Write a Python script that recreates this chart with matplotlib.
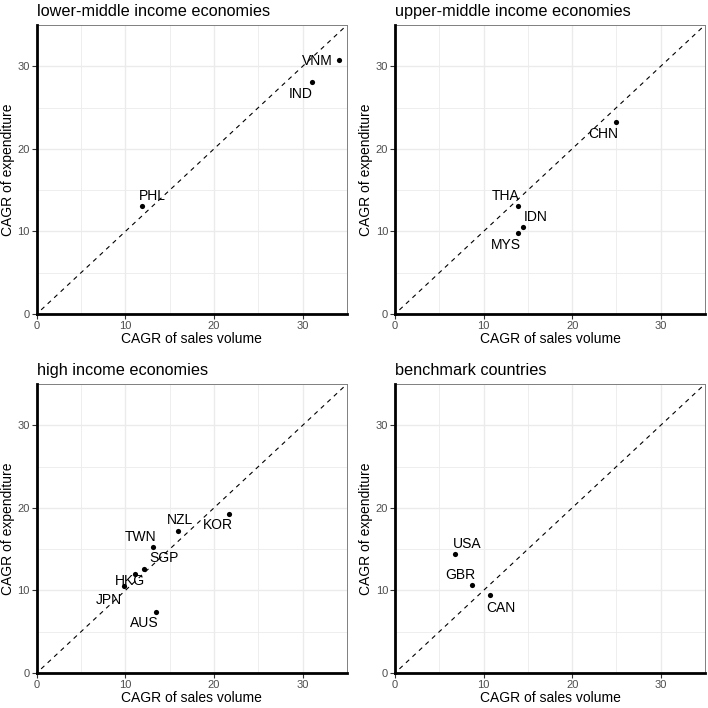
import matplotlib
matplotlib.use("Agg")
import matplotlib.pyplot as plt

plt.rcParams['font.family'] = ['Liberation Sans', 'DejaVu Sans']

titles = ["lower-middle income economies", "upper-middle income economies",
          "high income economies", "benchmark countries"]

lm_codes = ["PHL", "IND", "VNM"]
lm_x = [11.9, 31.1, 34.1]
lm_y = [13.1, 28.1, 30.8]
lm_lx = [13.0, 29.8, 31.6]
lm_ly = [14.3, 26.7, 30.7]

um_codes = ["CHN", "THA", "IDN", "MYS"]
um_x = [24.9, 13.9, 14.4, 13.9]
um_y = [23.3, 13.1, 10.5, 9.8]
um_lx = [23.5, 12.5, 15.85, 12.5]
um_ly = [21.85, 14.3, 11.7, 8.3]

hi_codes = ["KOR", "NZL", "TWN", "SGP", "HKG", "JPN", "AUS"]
hi_x = [21.7, 15.9, 13.1, 12.15, 11.1, 9.8, 13.5]
hi_y = [19.3, 17.25, 15.2, 12.6, 12.0, 10.5, 7.35]
hi_lx = [20.4, 16.2, 11.7, 14.4, 10.5, 8.1, 12.15]
hi_ly = [17.9, 18.5, 16.5, 13.9, 11.2, 8.9, 6.0]

bm_codes = ["USA", "GBR", "CAN"]
bm_x = [6.8, 8.7, 10.7]
bm_y = [14.4, 10.6, 9.4]
bm_lx = [8.15, 7.4, 12.0]
bm_ly = [15.6, 11.9, 7.9]

groups = [
    (lm_codes, lm_x, lm_y, lm_lx, lm_ly),
    (um_codes, um_x, um_y, um_lx, um_ly),
    (hi_codes, hi_x, hi_y, hi_lx, hi_ly),
    (bm_codes, bm_x, bm_y, bm_lx, bm_ly),
]

major_ticks = [0, 10, 20, 30]
minor_ticks = [5, 15, 25, 35]

W = H = 708
fig = plt.figure(figsize=(7.08, 7.08), dpi=100)

# axes boxes in pixels: left, top, right, bottom
boxes = [(36.7, 25, 347, 314), (395, 25, 705, 314),
         (36.7, 384, 347, 673), (395, 384, 705, 673)]

for (l, t, r, b), title, (codes, xs, ys, lxs, lys) in zip(boxes, titles, groups):
    ax = fig.add_axes([l / W, 1 - b / H, (r - l) / W, (b - t) / H])
    ax.set_xlim(0, 35)
    ax.set_ylim(0, 35)
    ax.set_xticks(major_ticks)
    ax.set_yticks(major_ticks)
    ax.set_xticks(minor_ticks, minor=True)
    ax.set_yticks(minor_ticks, minor=True)
    ax.grid(True, which='major', color='#EBEBEB', linewidth=1.0)
    ax.grid(True, which='minor', color='#EBEBEB', linewidth=0.6)
    ax.set_axisbelow(True)
    ax.tick_params(which='minor', length=0)
    ax.tick_params(which='major', length=3.5, width=0.8, color='#333333',
                   labelsize=8, labelcolor='#4D4D4D', pad=1.5)
    for s in ['top', 'right']:
        ax.spines[s].set_color('#7F7F7F')
        ax.spines[s].set_linewidth(0.7)
    for s in ['left', 'bottom']:
        ax.spines[s].set_color('black')
        ax.spines[s].set_linewidth(2.0)
        ax.spines[s].set_zorder(5)
    ax.plot([0.5, 35], [0.5, 35], linestyle=(0, (4, 4)), color='black',
            linewidth=0.8, zorder=2)
    ax.scatter(xs, ys, s=14, color='black', zorder=3, linewidths=0)
    for c, lx, ly in zip(codes, lxs, lys):
        ax.text(lx, ly, c, ha='center', va='center', fontsize=10, zorder=4)
    ax.set_xlabel("CAGR of sales volume", fontsize=10, labelpad=1)
    ax.set_ylabel("CAGR of expenditure", fontsize=10, va='center')
    ax.yaxis.set_label_coords(-0.092, 0.5)
    ax.set_title(title, loc='left', fontsize=11.7, pad=6.5)

fig.savefig("out.png", dpi=100, facecolor='white')
